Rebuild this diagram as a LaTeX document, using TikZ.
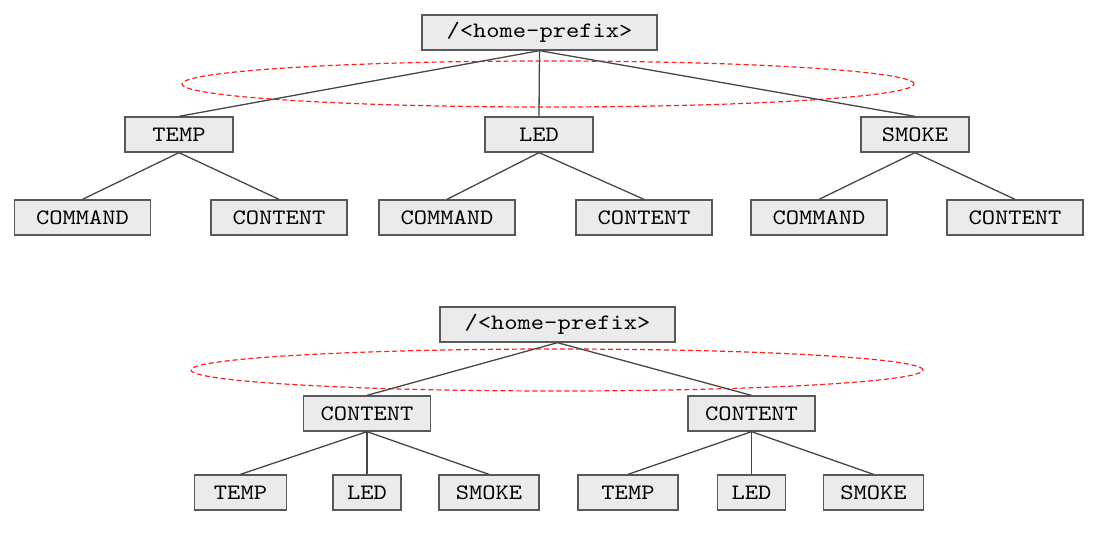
\documentclass[tikz,border=0pt]{standalone}
\usepackage{fontspec}
\setmonofont{lmmono10-regular.otf}[FakeStretch=1.15]
\usetikzlibrary{shapes.geometric}
\definecolor{boxfill}{HTML}{EBEBEB}
\definecolor{boxline}{HTML}{595959}
\definecolor{edgecol}{HTML}{474747}
\definecolor{ringred}{HTML}{FF1E1E}
\newcommand{\boxfont}{\ttfamily\fontsize{22}{25}\selectfont}
\begin{document}
\begin{tikzpicture}[x=1pt,y=-1pt,
  tbox/.style={draw=boxline,fill=boxfill,line width=1.3pt,inner sep=0pt,
    minimum height=35pt,font=\boxfont},
  edge/.style={draw=edgecol,line width=1.3pt},
  ring/.style={draw=ringred,line width=1.2pt,dash pattern=on 5pt off 3pt,ellipse,inner sep=0pt}]
\useasboundingbox (0,0) rectangle (1104,551);
% top tree
\node[ring,minimum width=732pt,minimum height=46pt] (e1) at (548,84) {};
\node[tbox,minimum width=235pt] (r1) at (539.5,32.5) {/<home-prefix>};
\node[tbox,minimum width=108pt] (t1) at (179,134.5) {TEMP};
\node[tbox,minimum width=108pt] (l1) at (539,134.5) {LED};
\node[tbox,minimum width=108pt] (s1) at (915,134.5) {SMOKE};
\node[tbox,minimum width=136pt] (tcm) at (82.5,217.5) {COMMAND};
\node[tbox,minimum width=136pt] (tct) at (279,217.5) {CONTENT};
\node[tbox,minimum width=136pt] (lcm) at (447,217.5) {COMMAND};
\node[tbox,minimum width=136pt] (lct) at (644,217.5) {CONTENT};
\node[tbox,minimum width=136pt] (scm) at (819,217.5) {COMMAND};
\node[tbox,minimum width=136pt] (sct) at (1015,217.5) {CONTENT};
\draw[edge] (r1.south) -- (t1.north);
\draw[edge] (r1.south) -- (l1.north);
\draw[edge] (r1.south) -- (s1.north);
\draw[edge] (t1.south) -- (tcm.north);
\draw[edge] (t1.south) -- (tct.north);
\draw[edge] (l1.south) -- (lcm.north);
\draw[edge] (l1.south) -- (lct.north);
\draw[edge] (s1.south) -- (scm.north);
\draw[edge] (s1.south) -- (sct.north);
% bottom tree
\node[ring,minimum width=732pt,minimum height=42pt] (e2) at (557,370) {};
\node[tbox,minimum width=235pt] (r2) at (557.5,324.5) {/<home-prefix>};
\node[tbox,minimum width=127pt] (c1) at (367,413.5) {CONTENT};
\node[tbox,minimum width=127pt] (c2) at (751.5,413.5) {CONTENT};
\node[tbox,minimum width=92pt] (ct1) at (240.5,492.5) {TEMP};
\node[tbox,minimum width=68pt] (cl1) at (367,492.5) {LED};
\node[tbox,minimum width=100pt] (cs1) at (489,492.5) {SMOKE};
\node[tbox,minimum width=100pt] (ct2) at (628,492.5) {TEMP};
\node[tbox,minimum width=68pt] (cl2) at (751.5,492.5) {LED};
\node[tbox,minimum width=100pt] (cs2) at (873.5,492.5) {SMOKE};
\draw[edge] (r2.south) -- (c1.north);
\draw[edge] (r2.south) -- (c2.north);
\draw[edge] (c1.south) -- (ct1.north);
\draw[edge] (c1.south) -- (cl1.north);
\draw[edge] (c1.south) -- (cs1.north);
\draw[edge] (c2.south) -- (ct2.north);
\draw[edge] (c2.south) -- (cl2.north);
\draw[edge] (c2.south) -- (cs2.north);
\end{tikzpicture}
\end{document}
